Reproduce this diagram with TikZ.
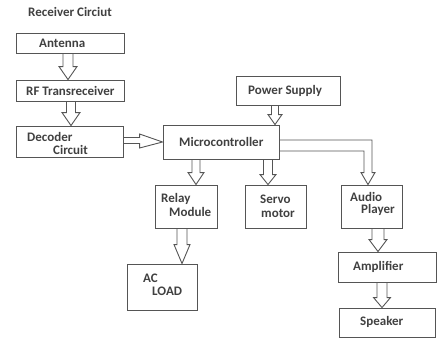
\documentclass[tikz,border=0pt]{standalone}
\usepackage{fontspec}
\setmainfont{Carlito}
\usetikzlibrary{calc}
\definecolor{txt}{HTML}{404040}
\definecolor{ln}{HTML}{555555}
\tikzset{
  box/.style={draw=ln, line width=0.9pt, rectangle, inner sep=0pt},
  lbl/.style={anchor=west, inner sep=0pt, text=txt, font=\bfseries\fontsize{13}{15}\selectfont},
  arr/.style={draw=ln, line width=0.9pt, line join=miter}
}
% box: name, x1, y1, x2, y2 (image pixel coords)
\newcommand\mybox[5]{\node[box, minimum width={#4pt-#2pt}, minimum height={#5pt-#3pt}] (#1) at ({(#2+#4)/2}, {(#3+#5)/2}) {};}
% vertical block arrow: from, to, cx, shaft half width, head half width, head length
\newcommand\varr[6]{\draw[arr] let \p1=(#1.south), \p2=(#2.north) in
  (#3pt-#4pt,\y1) -- (#3pt-#4pt,\y2+#6pt) -- (#3pt-#5pt,\y2+#6pt) -- (#3pt,\y2)
  -- (#3pt+#5pt,\y2+#6pt) -- (#3pt+#4pt,\y2+#6pt) -- (#3pt+#4pt,\y1);}
\begin{document}
\begin{tikzpicture}[x=1pt,y=-1pt]
\useasboundingbox (0,0) rectangle (438,340);
\node[lbl] (title) at (28,12) {Receiver Circiut};
\mybox{ant}{16}{33}{124}{53}
\mybox{rf}{16}{80}{124}{101}
\mybox{dec}{16}{126}{123}{157}
\mybox{mc}{163}{125}{279}{159}
\mybox{ps}{236}{76}{340}{105}
\mybox{relay}{155}{185}{217}{228}
\mybox{servo}{245}{185}{306}{228}
\mybox{audio}{341}{185}{402}{228}
\mybox{ac}{127}{264}{197}{310}
\mybox{amp}{338}{252}{436}{282}
\mybox{spk}{339}{308}{435}{337}
\node[lbl] (tant) at (39,43) {Antenna};
\node[lbl] (trf) at (26,91) {RF Transreceiver};
\node[lbl] (tdec1) at (27,137) {Decoder};
\node[lbl] (tdec2) at (53,150) {Circuit};
\node[lbl] (tmc) at (179,142) {Microcontroller};
\node[lbl] (tps) at (248,91) {Power Supply};
\node[lbl] (trel1) at (161,199) {Relay};
\node[lbl] (trel2) at (169,212) {Module};
\node[lbl] (tser1) at (260,199) {Servo};
\node[lbl] (tser2) at (261,213) {motor};
\node[lbl] (taud1) at (350,197) {Audio};
\node[lbl] (taud2) at (361,210) {Player};
\node[lbl] (tac1) at (143,278) {AC};
\node[lbl] (tac2) at (152,291) {LOAD};
\node[lbl] (tamp) at (353,267) {Amplifier};
\node[lbl] (tspk) at (360,322) {Speaker};
\varr{ant}{rf}{68}{5}{9}{13}
\varr{rf}{dec}{71}{4.5}{9}{13}
\varr{ps}{mc}{275}{3.5}{7}{10}
\varr{mc}{relay}{196}{4}{8}{12}
\varr{mc}{servo}{268}{4.5}{8}{10}
\varr{relay}{ac}{182}{5}{8}{19}
\varr{audio}{amp}{378}{6}{9}{12}
\varr{amp}{spk}{382}{5}{8.5}{10}
% horizontal arrow decoder -> microcontroller
\draw[arr] let \p1=(dec.east), \p2=(mc.west) in
  (\x1,-137.5pt) -- (\x2-23pt,-137.5pt) -- (\x2-23pt,-134pt) -- (\x2,-142pt)
  -- (\x2-23pt,-148pt) -- (\x2-23pt,-143.5pt) -- (\x1,-143.5pt);
% bent arrow microcontroller -> audio player
\draw[arr] let \p1=(mc.east), \p2=(audio.north) in
  (\x1,-140pt) -- (372pt,-140pt) -- (372pt,\y2+12pt) -- (375pt,\y2+12pt) -- (368pt,\y2)
  -- (361pt,\y2+12pt) -- (364pt,\y2+12pt) -- (364pt,-151pt) -- (\x1,-151pt);
\end{tikzpicture}
\end{document}
